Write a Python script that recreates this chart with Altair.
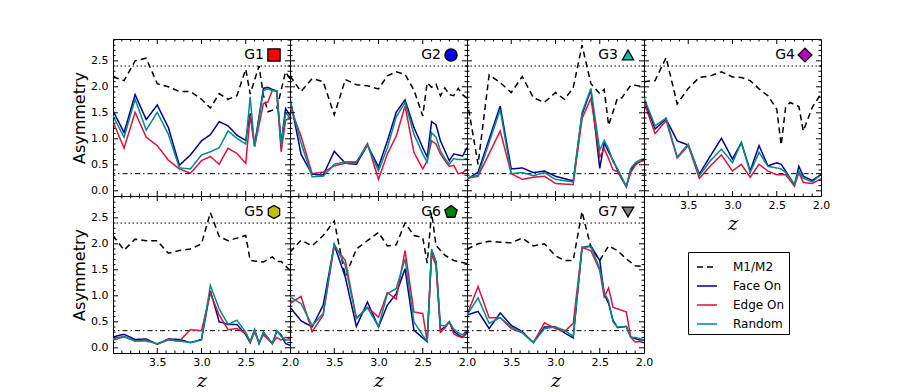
import altair as alt
import pandas as pd

N = None
Z = [4.0, 3.875, 3.75, 3.625, 3.5, 3.375, 3.25, 3.125, 3.0, 2.9, 2.8, 2.7,
     2.6, 2.5, 2.45, 2.4, 2.35, 2.3, 2.25, 2.2, 2.15, 2.1, 2.05, 2.0]

SERIES = ["M1/M2", "Face On", "Edge On", "Random"]
COLORS = ["#000000", "#00008b", "#dc143c", "#008b8b"]
DASHES = [[6, 4], [1, 0], [1, 0], [1, 0]]

G1_m = [2.19, 2.12, 2.50, 2.55, 2.06, 2.00, 1.91, 1.91, 1.76, 1.59, 1.87, 1.76, 1.83, 2.34, 1.86, N, 2.40, 1.84, 1.52, N, 1.58, N, 2.29, 2.15]
G1_f = [1.54, 1.12, 1.85, 1.37, 1.65, 1.22, 0.49, 0.69, 0.96, 1.08, 1.33, 1.25, 1.07, 0.97, 1.49, 0.88, N, 1.97, 1.99, 1.95, 1.92, 0.91, 1.58, 1.45]
G1_e = [1.33, 0.82, 1.51, 1.03, 0.87, 0.59, 0.42, 0.34, 0.58, 0.66, 0.51, 0.82, 0.72, 0.53, 1.45, 0.85, N, 1.68, 1.71, 1.93, 1.92, 0.75, 1.36, 1.38]
G1_r = [1.44, 1.03, 1.76, 1.17, 1.51, 1.09, 0.44, 0.42, 0.69, 0.75, 0.83, 1.15, 1.01, 0.90, 1.81, 0.85, N, 1.93, 1.96, 1.93, 1.92, 0.88, 1.50, 1.40]

G2_m = [2.21, 1.91, 2.16, 2.10, 1.46, 2.14, 2.04, 2.02, 1.96, 2.21, 2.29, 2.24, 1.94, 1.44, 2.08, 1.99, 2.05, 1.83, 1.98, 1.85, 1.83, 1.97, 1.85, 1.78]
G2_f = [1.78, 0.70, 0.32, 0.30, 0.76, 0.53, 0.51, 0.88, 0.46, 0.96, 1.51, 1.75, 1.22, 0.83, 0.65, 1.33, 1.27, 0.96, 0.77, 0.58, 0.71, 0.69, 0.67, 0.83]
G2_e = [1.62, 1.05, 0.33, 0.36, 0.48, 0.53, 0.54, 0.91, 0.22, 0.71, 1.05, 1.63, 0.74, 0.42, 0.58, 0.96, 0.90, 0.71, 0.58, 0.47, 0.49, 0.33, 0.35, 0.41]
G2_r = [1.72, 0.92, 0.27, 0.28, 0.51, 0.56, 0.56, 0.88, 0.38, 0.83, 1.42, 1.70, 1.09, 0.71, 0.55, 1.12, 1.03, 0.77, 0.62, 0.51, 0.62, 0.60, 0.60, 0.62]

G3_m = [1.75, 0.51, 2.23, 2.08, 1.89, 2.20, 1.79, 1.70, 1.89, 1.76, 1.98, 2.80, 2.06, 1.87, 1.95, 1.26, N, 1.78, 1.79, N, 2.03, 2.03, N, 2.00]
G3_f = [0.22, 0.36, N, 1.63, 0.42, 0.44, 0.35, 0.38, 0.28, N, 0.19, 1.47, 1.94, 0.43, 0.92, 0.75, 0.59, 0.40, N, 0.08, 0.40, 0.51, 0.56, 0.60]
G3_e = [0.24, 0.28, N, 1.15, 0.33, 0.22, 0.26, 0.28, 0.14, N, 0.12, 1.39, 1.78, 0.65, 0.81, 0.62, 0.40, 0.37, N, 0.08, 0.35, 0.49, 0.56, 0.58]
G3_r = [0.25, 0.30, N, 1.56, 0.33, 0.35, 0.29, 0.35, 0.22, N, 0.17, 1.51, 1.97, 0.78, 0.97, 0.81, 0.56, 0.43, N, 0.08, 0.43, 0.54, 0.59, 0.62]

G4_m = [2.10, 2.12, 2.56, 1.67, 1.97, 2.18, 2.21, 2.29, 2.19, 2.18, 2.12, 1.96, 1.83, 1.57, 0.88, 1.60, 1.70, N, 1.62, 1.15, N, 1.60, N, 1.87]
G4_f = [1.76, 1.19, 1.38, 0.96, 0.88, 0.32, 0.67, 1.01, 0.61, 0.93, 0.38, 0.87, 0.48, 0.54, 0.51, 0.38, N, 0.11, 0.47, 0.28, N, 0.20, N, 0.31]
G4_e = [1.70, 1.10, 1.35, 0.63, 0.87, 0.24, 0.48, 0.69, 0.38, 0.51, 0.26, 0.51, 0.38, 0.31, 0.31, 0.31, N, 0.09, 0.35, 0.16, N, 0.14, N, 0.23]
G4_r = [1.79, 1.25, 1.40, 0.65, 0.90, 0.29, 0.58, 0.80, 0.54, 0.93, 0.35, 0.74, 0.47, 0.44, 0.42, 0.35, N, 0.13, 0.38, 0.24, N, 0.17, N, 0.31]

G5_m = [2.16, 1.88, 2.09, 2.06, 2.06, 1.82, 1.87, 1.90, 2.00, 2.60, 2.14, 2.06, 2.11, 2.16, 1.68, N, N, 1.65, N, 1.75, 1.66, 1.66, N, 1.49]
G5_f = [0.21, 0.26, 0.16, 0.17, 0.07, 0.17, 0.16, 0.10, 0.16, 1.10, 0.50, 0.45, 0.45, 0.25, 0.10, 0.35, 0.08, 0.30, N, 0.08, 0.32, 0.25, 0.08, 0.05]
G5_e = [0.15, 0.21, 0.13, 0.15, 0.07, 0.15, 0.13, 0.35, 0.33, 1.05, 0.63, 0.35, 0.37, 0.28, 0.10, 0.30, 0.10, 0.25, N, 0.08, 0.20, 0.15, 0.20, 0.18]
G5_r = [0.18, 0.22, 0.13, 0.13, 0.08, 0.16, 0.13, 0.10, 0.15, 1.20, 0.75, 0.45, 0.53, 0.30, 0.12, 0.35, 0.09, 0.30, N, 0.08, 0.33, 0.22, 0.15, 0.15]

G6_m = [1.84, 2.07, 1.96, 2.16, 2.44, 1.37, 1.90, 2.06, 2.22, 1.96, 1.98, 2.40, 2.16, 2.12, 1.63, 2.60, 1.97, N, 1.78, N, 1.68, N, N, 1.62]
G6_f = [0.78, 0.52, 0.40, 0.82, 1.98, 1.36, 0.41, 0.88, 0.40, 0.82, 1.04, 1.52, 0.34, 0.19, 0.12, 1.87, 1.65, 0.34, 0.40, 0.50, 0.32, 0.25, 0.20, 0.30]
G6_e = [0.85, 0.99, 0.31, 0.63, 1.96, 1.68, 0.57, 0.78, 0.59, 1.06, 0.94, 1.87, 0.69, 0.66, 0.12, 1.80, 1.58, 0.30, 0.38, 0.50, 0.27, 0.22, 0.20, 0.28]
G6_r = [0.98, 0.85, 0.43, 0.66, 2.00, 1.58, 0.56, 0.77, 0.41, 1.04, 1.14, 1.71, 0.50, 0.24, 0.12, 1.90, 1.65, 0.43, 0.42, 0.50, 0.36, 0.29, 0.25, 0.33]

G7_m = [1.90, 2.00, 2.05, 2.03, 2.02, 2.11, 1.96, 2.00, 1.77, 1.68, 1.68, 2.62, 1.93, 1.68, N, 1.96, N, 1.87, N, 1.71, N, 1.58, N, 1.56]
G7_f = [0.63, 0.70, 0.37, 0.67, 0.43, 0.31, 0.10, 0.40, 0.40, 0.29, 0.19, 1.93, 1.96, 1.68, 1.04, 0.85, 0.53, 0.39, N, 0.41, 0.21, 0.18, 0.15, 0.15]
G7_e = [0.63, 1.18, 0.58, 0.58, 0.37, 0.29, 0.10, 0.48, 0.37, 0.31, 0.47, 1.93, 1.87, 1.49, 0.98, 1.15, 0.78, 0.75, N, 0.69, 0.21, 0.11, 0.12, 0.10]
G7_r = [0.63, 0.96, 0.47, 0.58, 0.40, 0.29, 0.10, 0.37, 0.40, 0.34, 0.22, 1.93, 1.95, 1.52, 1.07, 0.90, 0.50, 0.40, N, 0.41, 0.20, 0.20, 0.18, 0.15]

NAMES = ["G1", "G2", "G3", "G4", "G5", "G6", "G7"]
HEX = "M0,-1L0.866,-0.5L0.866,0.5L0,1L-0.866,0.5L-0.866,-0.5Z"
PENT = "M0,-1L0.951,-0.309L0.588,0.809L-0.588,0.809L-0.951,-0.309Z"
SHAPES = ["square", "circle", "triangle-up", "diamond", HEX, PENT, "triangle-down"]
MCOLORS = ["#ff0000", "#0000ff", "#00bfbf", "#bf00bf", "#bfbf00", "#008000", "#808080"]
MSIZES = [150, 150, 130, 190, 170, 170, 130]
DATA = [
    (G1_m, G1_f, G1_e, G1_r), (G2_m, G2_f, G2_e, G2_r), (G3_m, G3_f, G3_e, G3_r),
    (G4_m, G4_f, G4_e, G4_r), (G5_m, G5_f, G5_e, G5_r), (G6_m, G6_f, G6_e, G6_r),
    (G7_m, G7_f, G7_e, G7_r),
]

REF_DOTTED = [2.4]
REF_DASHDOT = [0.33]
X_LABELS = [3.5, 3.0, 2.5, 2.0]
Y_LABELS = [0.0, 0.5, 1.0, 1.5, 2.0, 2.5]
X_MAJOR = [3.5, 3.0, 2.5]
X_MINOR = [3.9, 3.8, 3.7, 3.6, 3.4, 3.3, 3.2, 3.1, 2.9, 2.8, 2.7, 2.6, 2.4, 2.3, 2.2, 2.1]
Y_MAJOR = [0.0, 0.5, 1.0, 1.5, 2.0, 2.5]
Y_MINOR = [0.1, 0.2, 0.3, 0.4, 0.6, 0.7, 0.8, 0.9, 1.1, 1.2, 1.3, 1.4, 1.6, 1.7,
           1.8, 1.9, 2.1, 2.2, 2.3, 2.4, 2.6, 2.7, 2.8, 2.9]

W, H = 177, 157
FONT = "DejaVu Sans"

LEGEND = alt.Legend(
    title=None, orient="none", legendX=575, legendY=213, symbolType="stroke",
    symbolSize=400, symbolStrokeWidth=1.5, symbolOffset=4, labelFontSize=12,
    labelFont=FONT, labelColor="black", strokeColor="black", fillColor="white",
    padding=4, rowPadding=2, labelOffset=15, cornerRadius=0,
)


def panel(i, show_x, show_y):
    xs = alt.Scale(domain=[2.0, 4.0], reverse=True, nice=False, zero=False)
    ys = alt.Scale(domain=[-0.1, 2.92], nice=False, zero=False)
    if show_x:
        xax = alt.Axis(values=X_LABELS, format=".1f", ticks=False, domain=False,
                       grid=False, labelFlush=False, labelOverlap=False,
                       labelPadding=3, title="z", titleFont="DejaVu Serif",
                       titleFontStyle="italic", titleFontWeight="normal",
                       titleFontSize=19, titlePadding=4)
    else:
        xax = None
    if show_y:
        yax = alt.Axis(values=Y_LABELS, format=".1f", ticks=False, domain=False,
                       grid=False, labelFlush=False, labelOverlap=False,
                       labelPadding=5, title="Asymmetry", titleFont=FONT,
                       titleFontWeight="normal", titleFontSize=16, titlePadding=3)
    else:
        yax = None

    rows = []
    for s, vals in zip(SERIES, DATA[i]):
        for z, v in zip(Z, vals):
            if v is not None:
                rows.append({"z": z, "v": v, "s": s})
    df = pd.DataFrame(rows)

    X = lambda f: alt.X(f, scale=xs, axis=xax)
    Y = lambda f: alt.Y(f, scale=ys, axis=yax)

    layers = []
    layers.append(alt.Chart(pd.DataFrame({"r": REF_DOTTED})).mark_rule(
        color="black", strokeWidth=1, strokeDash=[1.5, 2.5]).encode(y=Y("r:Q")))
    layers.append(alt.Chart(pd.DataFrame({"r": REF_DASHDOT})).mark_rule(
        color="black", strokeWidth=1, strokeDash=[5, 3, 1.5, 3]).encode(y=Y("r:Q")))

    layers.append(alt.Chart(df).mark_line(strokeWidth=1.5, clip=True).encode(
        x=X("z:Q"), y=Y("v:Q"),
        color=alt.Color("s:N", scale=alt.Scale(domain=SERIES, range=COLORS), legend=LEGEND),
        strokeDash=alt.StrokeDash("s:N", scale=alt.Scale(domain=SERIES, range=DASHES), legend=LEGEND),
    ))

    for vals, ln in ((X_MAJOR, 5), (X_MINOR, 2.5)):
        d = pd.DataFrame({"t": vals})
        layers.append(alt.Chart(d).mark_rule(color="black", strokeWidth=1).encode(
            x=X("t:Q"), y=alt.value(0), y2=alt.value(ln)))
        layers.append(alt.Chart(d).mark_rule(color="black", strokeWidth=1).encode(
            x=X("t:Q"), y=alt.value(H), y2=alt.value(H - ln)))
    for vals, ln in ((Y_MAJOR, 5), (Y_MINOR, 2.5)):
        d = pd.DataFrame({"t": vals})
        layers.append(alt.Chart(d).mark_rule(color="black", strokeWidth=1).encode(
            y=Y("t:Q"), x=alt.value(0), x2=alt.value(ln)))
        layers.append(alt.Chart(d).mark_rule(color="black", strokeWidth=1).encode(
            y=Y("t:Q"), x=alt.value(W), x2=alt.value(W - ln)))

    lab = pd.DataFrame({"g": [NAMES[i]]})
    layers.append(alt.Chart(lab).mark_text(align="right", baseline="middle",
                                           fontSize=14, font=FONT, color="black").encode(
        text="g:N", x=alt.value(W - 26), y=alt.value(16)))
    layers.append(alt.Chart(lab).mark_point(
        shape=SHAPES[i], filled=True, fill=MCOLORS[i], stroke="black",
        strokeWidth=1.3, size=MSIZES[i], opacity=1, fillOpacity=1).encode(
        x=alt.value(W - 16), y=alt.value(16)))

    return alt.layer(*layers).properties(width=W, height=H)


p = [panel(0, False, True), panel(1, False, False), panel(2, False, False),
     panel(3, True, False), panel(4, True, True), panel(5, True, False),
     panel(6, True, False)]

chart = alt.concat(*p, columns=4, spacing=0, bounds="flush").resolve_scale(
    color="shared", strokeDash="shared"
).properties(
    padding={"left": 63, "top": 30, "right": 5, "bottom": 2}
).configure_view(
    stroke="black", strokeWidth=1
).configure_axis(
    labelFont=FONT, labelFontSize=11, labelColor="black", titleColor="black"
)

chart.save("out.html", embed_options={"renderer": "svg", "actions": False})
